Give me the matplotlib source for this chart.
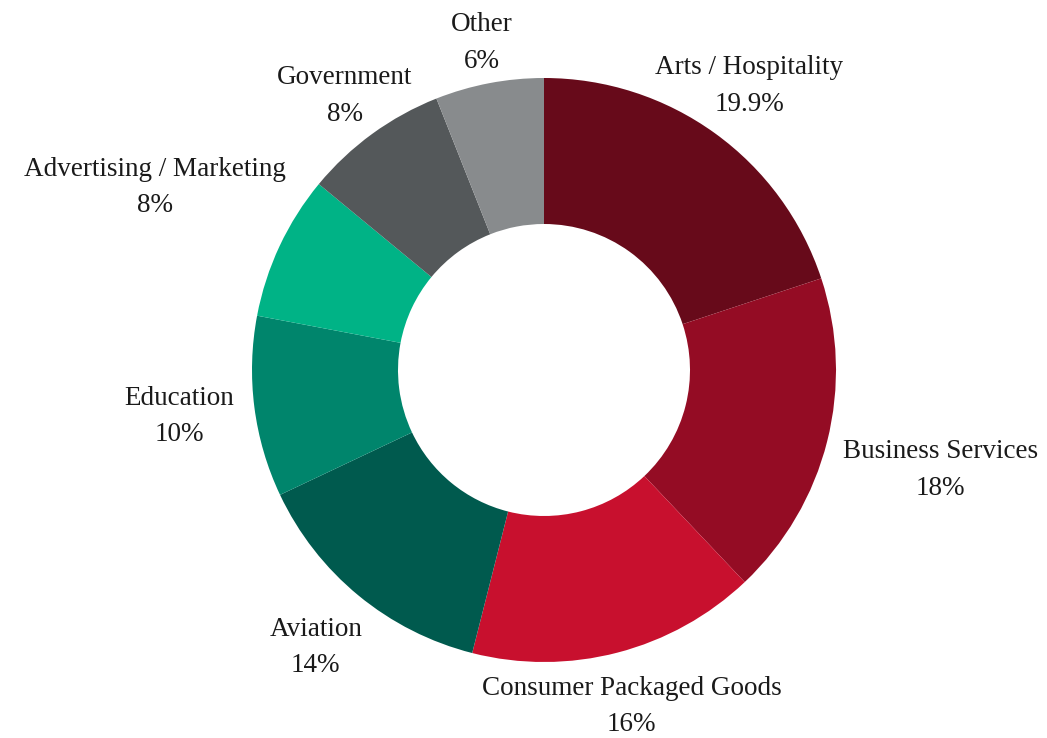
import matplotlib
matplotlib.use("Agg")
import matplotlib.pyplot as plt
import numpy as np

categories = ["Arts / Hospitality", "Business Services", "Consumer Packaged Goods",
              "Aviation", "Education", "Advertising / Marketing", "Government", "Other"]
values = [19.9, 18, 16, 14, 10, 8, 8, 6]
value_labels = ["19.9%", "18%", "16%", "14%", "10%", "8%", "8%", "6%"]
colors = ["#670A1A", "#940C24", "#C8102E", "#005A4E", "#00856C", "#00B386", "#54585A", "#888B8D"]
label_dist = [1.20, 1.40, 1.19, 1.23, 1.26, 1.47, 1.16, 1.14]

W, H = 1047, 738
fig = plt.figure(figsize=(W / 100, H / 100), dpi=100)
ax = fig.add_axes([0, 0, 1, 1])
cx, cy, R = 544, 370, 292

wedges, _ = ax.pie(values, colors=colors, startangle=90, counterclock=False,
                   radius=1, wedgeprops=dict(width=0.5, edgecolor="none"),
                   frame=True)
ax.set_xlim(-cx / R, (W - cx) / R)
ax.set_ylim(-(H - cy) / R, cy / R)
ax.set_aspect("auto")
ax.axis("off")

for w, cat, vl, d in zip(wedges, categories, value_labels, label_dist):
    ang = np.deg2rad((w.theta1 + w.theta2) / 2)
    x, y = d * np.cos(ang), d * np.sin(ang)
    ax.text(x, y, f"{cat}\n{vl}", ha="center", va="center", fontsize=19.5,
            family="Liberation Serif", color="#1a1a1a", linespacing=1.6)

fig.savefig("out.png", dpi=100)
